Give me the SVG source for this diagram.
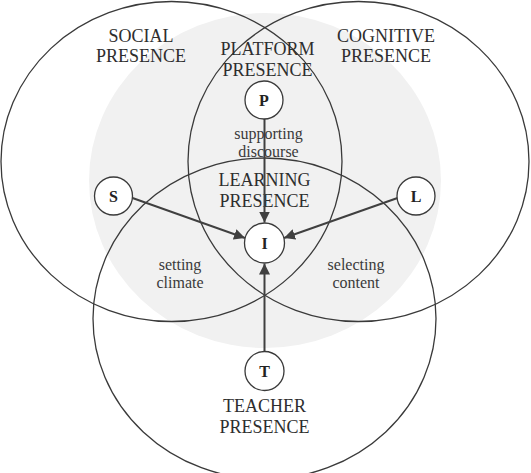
<svg xmlns="http://www.w3.org/2000/svg" width="531" height="473" viewBox="0 0 531 473">
<style>
.big{fill:none;stroke:#3a3a3a;stroke-width:1.3}
.node{fill:#fff;stroke:#3a3a3a;stroke-width:1.3}
.lbl{font-family:"Liberation Serif","Times New Roman",serif;font-size:18px;fill:#2e2e2e;text-anchor:middle}
.sm{font-family:"Liberation Serif","Times New Roman",serif;font-size:16px;fill:#3a3a3a;text-anchor:middle}
.ltr{font-family:"Liberation Serif","Times New Roman",serif;font-size:16px;font-weight:bold;fill:#222;text-anchor:middle}
.edge{stroke:#404040;stroke-width:2;fill:none;marker-end:url(#ah)}
</style>
<defs>
<marker id="ah" viewBox="0 0 10 10" refX="10" refY="5" markerWidth="5.5" markerHeight="5.5" orient="auto" markerUnits="strokeWidth">
<path d="M0,0 L10,5 L0,10 Z" fill="#404040"/>
</marker>
</defs>
<rect width="531" height="473" fill="#fff"/>
<g id="learning-area">
<ellipse cx="265" cy="180.5" rx="176" ry="167.5" fill="#f1f1f1"/>
</g>
<g id="social-presence">
<ellipse class="big" cx="171.5" cy="161.5" rx="170.5" ry="160"/>
<text class="lbl" x="141" y="41.5">SOCIAL</text>
<text class="lbl" x="141" y="61.5">PRESENCE</text>
</g>
<g id="cognitive-presence">
<ellipse class="big" cx="358.5" cy="161.5" rx="170.5" ry="160"/>
<text class="lbl" x="386" y="41.5">COGNITIVE</text>
<text class="lbl" x="386" y="61.5">PRESENCE</text>
</g>
<g id="teacher-presence">
<ellipse class="big" cx="264.5" cy="318.5" rx="171.5" ry="160.5"/>
<text class="lbl" x="264.5" y="412">TEACHER</text>
<text class="lbl" x="264.5" y="432.5">PRESENCE</text>
</g>
<g id="platform-presence">
<text class="lbl" x="267.5" y="55">PLATFORM</text>
<text class="lbl" x="267.5" y="76">PRESENCE</text>
</g>
<g id="learning-presence">
<text class="lbl" x="264.5" y="186">LEARNING</text>
<text class="lbl" x="264.5" y="206.5">PRESENCE</text>
</g>
<g id="connectors">
<line class="edge" x1="264.5" y1="119" x2="264.5" y2="222.5"/>
<line class="edge" x1="132.5" y1="198" x2="245" y2="238"/>
<line class="edge" x1="397.5" y1="198" x2="284" y2="238"/>
<line class="edge" x1="264.5" y1="351.5" x2="264.5" y2="263.5"/>
</g>
<g id="edge-labels">
<text class="sm" x="268.5" y="139">supporting</text>
<text class="sm" x="268.5" y="156.5">discourse</text>
<text class="sm" x="180" y="270">setting</text>
<text class="sm" x="180" y="287.5">climate</text>
<text class="sm" x="356" y="270">selecting</text>
<text class="sm" x="356" y="287.5">content</text>
</g>
<g id="node-P">
<circle class="node" cx="264" cy="100" r="19"/>
<text class="ltr" x="264" y="105.5">P</text>
</g>
<g id="node-S">
<circle class="node" cx="113.5" cy="196" r="19"/>
<text class="ltr" x="113.5" y="201.5">S</text>
</g>
<g id="node-L">
<circle class="node" cx="416" cy="196" r="19"/>
<text class="ltr" x="416" y="201.5">L</text>
</g>
<g id="node-I">
<circle class="node" cx="264.5" cy="243" r="20"/>
<text class="ltr" x="264.5" y="248.5">I</text>
</g>
<g id="node-T">
<circle class="node" cx="264.5" cy="371" r="19.5"/>
<text class="ltr" x="264.5" y="376.5">T</text>
</g>
</svg>
